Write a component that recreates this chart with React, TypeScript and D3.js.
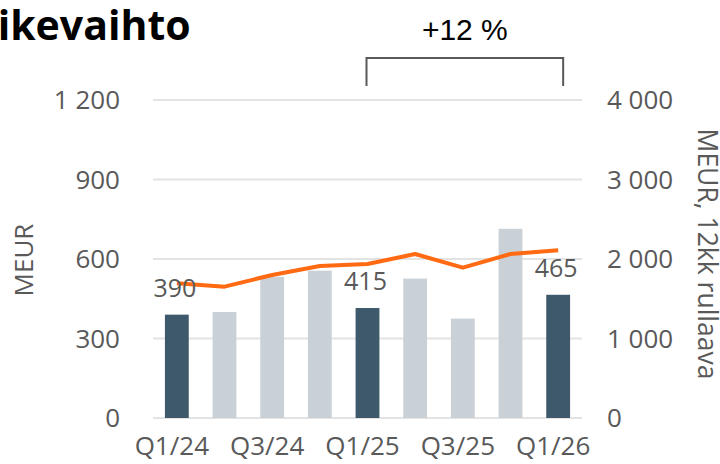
import { useEffect, useRef } from 'react';
import * as d3 from 'd3';

const quarters = ['Q1/24', 'Q2/24', 'Q3/24', 'Q4/24', 'Q1/25', 'Q2/25', 'Q3/25', 'Q4/25', 'Q1/26'];
const revenue = [390, 400, 533, 556, 415, 526, 375, 714, 465];
const rolling12m = [1694, 1652, 1799, 1912, 1937, 2063, 1891, 2063, 2109];
const highlighted = ['Q1/24', 'Q1/25', 'Q1/26'];
const tickLabels = ['Q1/24', 'Q3/24', 'Q1/25', 'Q3/25', 'Q1/26'];
const leftTicks = [0, 300, 600, 900, 1200];
const rightTicks = [0, 1000, 2000, 3000, 4000];

const FONT = "'Open Sans', sans-serif";
const GREY_TEXT = '#595959';

function fmt(v: number) {
  return d3.format(',')(v).replace(/,/g, ' ');
}

function App() {
  const svgRef = useRef<SVGSVGElement>(null);

  useEffect(() => {
    const width = 720;
    const height = 464;
    const plot = { left: 153, right: 582, top: 100, bottom: 418 };

    const svg = d3.select(svgRef.current);
    svg.selectAll('*').remove();
    svg.attr('width', width).attr('height', height);

    const x = d3.scaleBand<string>()
      .domain(quarters)
      .range([plot.left, plot.right])
      .paddingInner(0.5)
      .paddingOuter(0.25);

    const yLeft = d3.scaleLinear().domain([0, 1200]).range([plot.bottom, plot.top]);
    const yRight = d3.scaleLinear().domain([0, 4000]).range([plot.bottom, plot.top]);

    // Gridlines
    svg.append('g')
      .selectAll('line')
      .data(leftTicks)
      .join('line')
      .attr('x1', plot.left)
      .attr('x2', plot.right)
      .attr('y1', d => yLeft(d))
      .attr('y2', d => yLeft(d))
      .attr('stroke', '#e3e3e3')
      .attr('stroke-width', 2);

    // Bars
    svg.append('g')
      .selectAll('rect')
      .data(quarters)
      .join('rect')
      .attr('x', d => x(d)!)
      .attr('y', (d, i) => yLeft(revenue[i]))
      .attr('width', x.bandwidth())
      .attr('height', (d, i) => yLeft(0) - yLeft(revenue[i]))
      .attr('fill', d => (highlighted.includes(d) ? '#3e596b' : '#c9d1d7'));

    // Rolling 12 month line
    const line = d3.line<number>()
      .x((d, i) => x(quarters[i])! + x.bandwidth() / 2)
      .y(d => yRight(d));

    svg.append('path')
      .datum(rolling12m)
      .attr('fill', 'none')
      .attr('stroke', '#ff6a13')
      .attr('stroke-width', 4)
      .attr('stroke-linejoin', 'round')
      .attr('d', line);

    // Data labels on highlighted bars
    svg.append('g')
      .selectAll('text')
      .data(quarters.filter(q => highlighted.includes(q)))
      .join('text')
      .attr('x', d => x(d)! + x.bandwidth() / 2 - 2)
      .attr('y', d => yLeft(revenue[quarters.indexOf(d)]) - 18)
      .attr('text-anchor', 'middle')
      .attr('font-family', FONT)
      .attr('font-size', 25)
      .attr('fill', GREY_TEXT)
      .text(d => String(revenue[quarters.indexOf(d)]));

    // Left axis labels
    svg.append('g')
      .selectAll('text')
      .data(leftTicks)
      .join('text')
      .attr('x', 120)
      .attr('y', d => yLeft(d))
      .attr('dy', '0.35em')
      .attr('text-anchor', 'end')
      .attr('font-family', FONT)
      .attr('font-size', 26)
      .attr('fill', GREY_TEXT)
      .text(d => fmt(d));

    // Right axis labels
    svg.append('g')
      .selectAll('text')
      .data(rightTicks)
      .join('text')
      .attr('x', 607)
      .attr('y', d => yRight(d))
      .attr('dy', '0.35em')
      .attr('text-anchor', 'start')
      .attr('font-family', FONT)
      .attr('font-size', 26)
      .attr('fill', GREY_TEXT)
      .text(d => fmt(d));

    // X axis labels
    svg.append('g')
      .selectAll('text')
      .data(tickLabels)
      .join('text')
      .attr('x', d => x(d)! + x.bandwidth() / 2 - 5)
      .attr('y', 455)
      .attr('text-anchor', 'middle')
      .attr('font-family', FONT)
      .attr('font-size', 26)
      .attr('fill', GREY_TEXT)
      .text(d => d);

    // Axis titles
    svg.append('text')
      .attr('transform', `translate(24,${(plot.top + plot.bottom) / 2 + 1}) rotate(-90)`)
      .attr('text-anchor', 'middle')
      .attr('dy', '0.35em')
      .attr('font-family', FONT)
      .attr('font-size', 26)
      .attr('fill', GREY_TEXT)
      .text('MEUR');

    svg.append('text')
      .attr('transform', `translate(707,254) rotate(90)`)
      .attr('text-anchor', 'middle')
      .attr('dy', '0.35em')
      .attr('font-family', FONT)
      .attr('font-size', 26.5)
      .attr('fill', GREY_TEXT)
      .text('MEUR, 12kk rullaava');

    // Title (cut at the left edge)
    svg.append('text')
      .attr('x', -38)
      .attr('y', 40)
      .attr('font-family', FONT)
      .attr('font-weight', 'bold')
      .attr('font-size', 41)
      .attr('fill', '#000')
      .text('Liikevaihto');

    // Growth bracket
    const bx1 = x('Q1/25')! + x.bandwidth() / 2 - 1;
    const bx2 = x('Q1/26')! + x.bandwidth() / 2 + 5;
    svg.append('path')
      .attr('d', `M${bx1},86 V58 H${bx2} V86`)
      .attr('fill', 'none')
      .attr('stroke', '#595959')
      .attr('stroke-width', 2);

    svg.append('text')
      .attr('x', (bx1 + bx2) / 2)
      .attr('y', 40)
      .attr('text-anchor', 'middle')
      .attr('font-family', "'Liberation Sans', Arial, sans-serif")
      .attr('font-size', 30)
      .attr('fill', '#000')
      .text('+12 %');
  }, []);

  return (
    <div style={{ position: 'absolute', left: 0, top: 0 }}>
      <svg ref={svgRef} style={{ display: 'block' }}></svg>
    </div>
  );
}

export default App;
